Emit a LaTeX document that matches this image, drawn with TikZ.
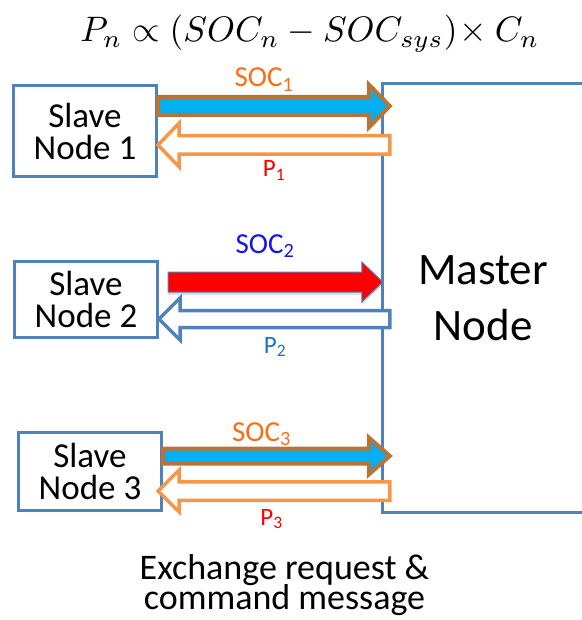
\documentclass[tikz,border=0pt]{standalone}
\usepackage{fontspec}
\setmainfont{Carlito}
\usetikzlibrary{calc,shadows}
\setlength{\lineskiplimit}{-50pt}
\definecolor{bordbleu}{RGB}{79,129,189}
\definecolor{brun}{RGB}{185,115,55}
\definecolor{ciel}{RGB}{0,176,240}
\definecolor{orclair}{RGB}{247,150,70}
\definecolor{orfonce}{RGB}{250,110,20}
\definecolor{rouge}{RGB}{255,0,0}
\definecolor{bleuvif}{RGB}{20,20,235}
\definecolor{bleuP}{RGB}{30,115,195}
\newcommand{\esclave}[3]{\node[slave,minimum height=#3] (s#1) at (#2) {Slave\\Node #1}}
\newcommand{\versM}[5]{\draw[#1] let \p1=(#2), \p2=(#3) in
	(\x1,\y1+#4) -- (\x2-21,\y1+#4) -- (\x2-21,\y1+#5) -- (\x2,\y1)
	-- (\x2-21,\y1-#5) -- (\x2-21,\y1-#4) -- (\x1,\y1-#4) -- cycle}
\newcommand{\versS}[5]{\draw[#1] let \p1=(#2), \p2=(#3) in
	(\x2,\y1+#4) -- (\x1+21,\y1+#4) -- (\x1+21,\y1+#5) -- (\x1,\y1)
	-- (\x1+21,\y1-#5) -- (\x1+21,\y1-#4) -- (\x2,\y1-#4) -- cycle}

\begin{document}
\begin{tikzpicture}[x=1pt,y=-1pt,
	epais/.style={line width=3pt},
	slave/.style={draw=bordbleu,epais,fill=white,minimum width=143,inner sep=0,align=center,
		font=\fontsize{35}{32}\selectfont},
	soc/.style={fill=ciel,draw=brun,line width=4pt,line join=miter},
	retour/.style={fill=white,line width=3.5pt,line join=miter},
	lab/.style={anchor=base,inner sep=0,font=\fontsize{29}{30}\selectfont},
	labp/.style={anchor=base,inner sep=0,font=\fontsize{25}{26}\selectfont}]
\useasboundingbox (0,0) rectangle (581,620);
%
	\node[anchor=base,font=\fontsize{10}{12}\selectfont] (eq) at (310,42)
		{\scalebox{3.54}{$P_n \propto \left(SOC_n - SOC_{sys}\right)\!\times C_n$}};
%
	\node[minimum width=200,minimum height=428,align=center,
		font=\fontsize{45}{56}\selectfont] (m) at (483,298) {Master\\Node};
	\draw[epais,bordbleu] ($(m.north east)+(30,0)$) -- (m.north west)
		-- (m.south west) -- ($(m.south east)+(30,0)$);
%
	\esclave{1}{85,131.5}{91};
	\esclave{2}{86,299}{76};
	\esclave{3}{90,471}{78};
%
	\versM{soc}{$(s1.east)+(0,-25.5)$}{$(m.west)+(7,0)$}{9}{21.5};
	\versS{retour,draw=orclair}{$(s1.east)+(0,13.5)$}{$(m.west)+(7,0)$}{9.25}{21.75};
	\versM{fill=rouge,draw=bordbleu,line width=1pt,
		drop shadow={shadow xshift=0pt,shadow yshift=-3pt,opacity=.25}}
		{$(s2.east)+(9,-17)$}{m.west}{10}{20};
	\versS{retour,draw=bordbleu}{$(s2.east)+(0,20)$}{$(m.west)+(7,0)$}{8.5}{21};
	\versM{soc}{$(s3.east)+(0,-15)$}{$(m.west)+(7,0)$}{7.5}{18.5};
	\versS{retour,draw=orclair}{$(s3.east)+(-5,20)$}{$(m.west)+(7,0)$}{9.25}{20.75};
%
	\node[lab,text=orfonce] (lsoc1) at (264,87) {SOC\textsubscript{1}};
	\node[labp,text=rouge] (lp1) at (274,177) {P\textsubscript{1}};
	\node[lab,text=bleuvif] (lsoc2) at (265,253) {SOC\textsubscript{2}};
	\node[labp,text=bleuP] (lp2) at (275,353) {P\textsubscript{2}};
	\node[lab,text=orfonce] (lsoc3) at (261.5,441) {SOC\textsubscript{3}};
	\node[labp,text=rouge] (lp3) at (271.5,525) {P\textsubscript{3}};
%
	\node[anchor=base,align=center,font=\fontsize{36}{30}\selectfont]
		(msg) at (284.5,609) {Exchange request \&\\command message};
%
\end{tikzpicture}
\end{document}
